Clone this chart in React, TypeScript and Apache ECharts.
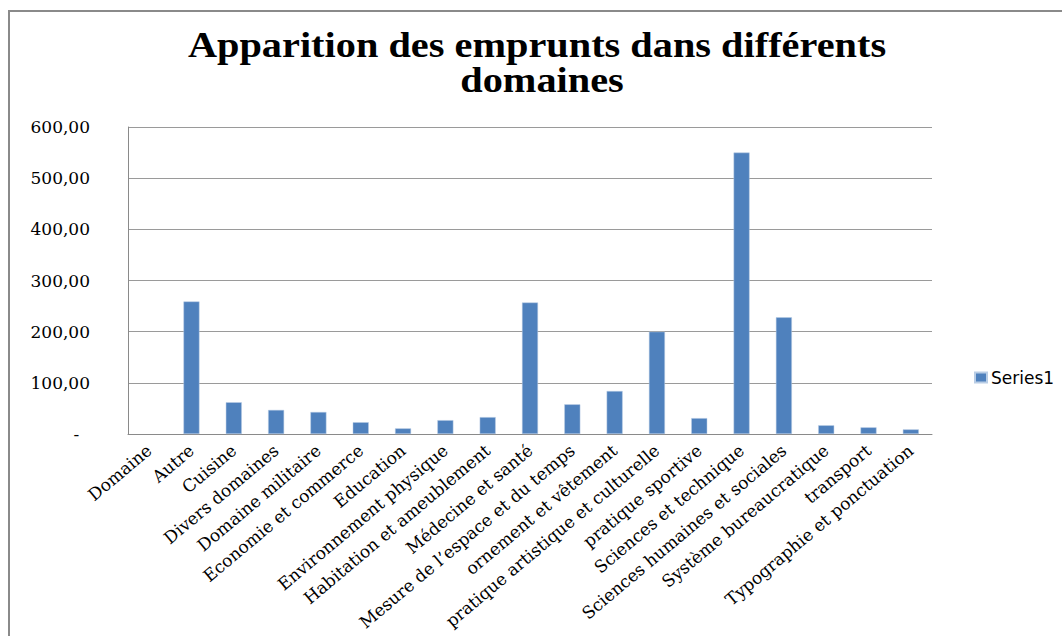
import React, { useEffect, useRef } from "react";
import * as echarts from "echarts";

const categories: string[] = [
  "Domaine",
  "Autre",
  "Cuisine",
  "Divers domaines",
  "Domaine militaire",
  "Economie et commerce",
  "Education",
  "Environnement physique",
  "Habitation et ameublement",
  "Médecine et santé",
  "Mesure de l’espace et du temps",
  "ornement et vêtement",
  "pratique artistique et culturelle",
  "pratique sportive",
  "Sciences et technique",
  "Sciences humaines et sociales",
  "Système bureaucratique",
  "transport",
  "Typographie et ponctuation",
];

const series1: (number | null)[] = [
  null, 259, 62, 47, 43, 23, 11, 27, 33, 257, 58, 84, 200, 31, 550, 228, 17, 13, 9,
];

const yTicks: number[] = [0, 100, 200, 300, 400, 500, 600];

const titleLines: string[] = ["Apparition des emprunts dans différents", "domaines"];

export default function App() {
  const ref = useRef<HTMLDivElement>(null);
  useEffect(() => {
    if (!ref.current) return;
    const chart = echarts.init(ref.current, undefined, { renderer: "svg" });
    const titleFont = "bold 36px 'Liberation Serif', 'Times New Roman', serif";
    chart.setOption({
      animation: false,
      backgroundColor: "#ffffff",
      graphic: [
        {
          type: "rect",
          shape: { x: 9, y: 11, width: 1100, height: 700 },
          style: { fill: "none", stroke: "#8a8a8a", lineWidth: 2 },
          silent: true,
        },
        {
          type: "text",
          x: 537,
          y: 45,
          scaleX: 1.12,
          style: {
            text: titleLines[0],
            font: titleFont,
            fill: "#000000",
            align: "center",
            verticalAlign: "middle",
          },
        },
        {
          type: "text",
          x: 542,
          y: 80,
          scaleX: 1.12,
          style: {
            text: titleLines[1],
            font: titleFont,
            fill: "#000000",
            align: "center",
            verticalAlign: "middle",
          },
        },
      ],
      legend: {
        show: true,
        left: 969,
        top: 364,
        itemWidth: 12,
        itemHeight: 10,
        itemGap: 6,
        icon: "rect",
        textStyle: {
          fontFamily: "'DejaVu Sans', 'Open Sans', sans-serif",
          fontSize: 17,
          color: "#000000",
          padding: [0, 0, 0, -1],
        },
        data: ["Series1"],
      },
      grid: {
        left: 128,
        right: 130,
        top: 127,
        bottom: 202,
        containLabel: false,
      },
      xAxis: {
        type: "category",
        data: categories,
        axisLine: { show: true, lineStyle: { color: "#8a8a8a", width: 1 } },
        axisTick: { show: false },
        axisLabel: {
          interval: 0,
          rotate: 40,
          margin: 14,
          fontFamily: "'DejaVu Serif', 'Liberation Serif', serif",
          fontSize: 17,
          color: "#000000",
        },
      },
      yAxis: {
        type: "value",
        min: yTicks[0],
        max: yTicks[yTicks.length - 1],
        interval: 100,
        axisLine: { show: true, lineStyle: { color: "#8a8a8a", width: 1 } },
        axisTick: { show: false },
        splitLine: { show: true, lineStyle: { color: "#9a9a9a", width: 1 } },
        axisLabel: {
          margin: 38,
          fontFamily: "'DejaVu Serif', 'Liberation Serif', serif",
          fontSize: 17,
          color: "#000000",
          formatter: (v: number) => (v === 0 ? "-  " : v.toFixed(2).replace(".", ",")),
        },
      },
      series: [
        {
          name: "Series1",
          type: "bar",
          data: series1,
          barWidth: 16,
          itemStyle: { color: "#4f81bd", borderColor: "#b9cde5", borderWidth: 0.5 },
        },
      ],
    });
    return () => chart.dispose();
  }, []);
  return (
    <div
      ref={ref}
      style={{ position: "fixed", left: 0, top: 0, width: 1062, height: 636 }}
    />
  );
}
